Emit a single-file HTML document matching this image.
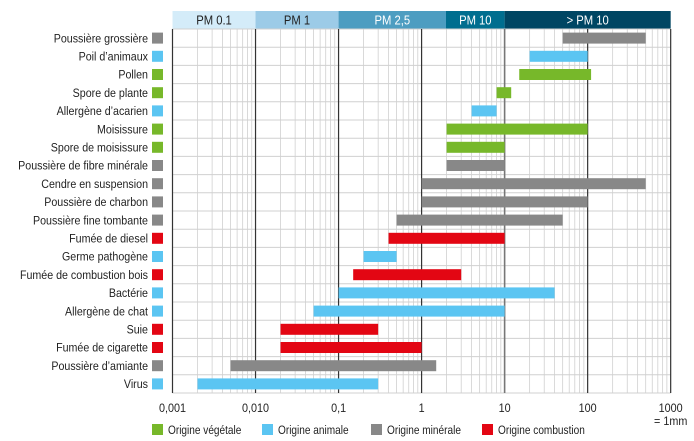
<!DOCTYPE html>
<html><head><meta charset="utf-8"><style>
body{margin:0;background:#fff}
svg{display:block;font-family:"Liberation Sans Narrow","Liberation Sans",sans-serif;font-size:12px;fill:#222}
</style></head><body>
<svg id="s" width="694" height="441" viewBox="0 0 694 441"></svg>
<script>
const s=document.getElementById('s');
const X0=172.5,D=83.03,T=29,RH=18.2,N=20;
const x=v=>X0+(Math.log10(v)+3)*D;
let h='';
const hd=[[0.001,0.01,'#d4ecf9','PM 0.1','#222'],[0.01,0.1,'#9ccbe7','PM 1','#222'],[0.1,2,'#4d9dc1','PM 2,5','#fff'],[2,10,'#006e8f','PM 10','#fff'],[10,1000,'#004663','> PM 10','#fff']];
hd.forEach(([a,b,c,t,tc])=>{const x1=a==2?446:x(a),x2=b==2?446:x(b);h+=`<rect x="${x1}" y="11" width="${x2-x1}" height="18" fill="${c}"/><text transform="translate(${(x1+x2)/2},24.5) scale(0.9,1)" text-anchor="middle" style="fill:${tc};font-size:12.5px">${t}</text>`;});
for(let i=0;i<=N;i++){const y=T+i*RH;h+=`<line x1="${X0}" x2="${x(1000)}" y1="${y}" y2="${y}" stroke="#d0d0d0" stroke-width="1"/>`;}
for(let e=-3;e<3;e++)for(let m=2;m<10;m++){const xx=x(m*Math.pow(10,e));h+=`<line x1="${xx}" x2="${xx}" y1="${T}" y2="${T+N*RH}" stroke="#d0d0d0" stroke-width="0.8"/>`;}
for(let e=-3;e<=3;e++){const xx=x(Math.pow(10,e));h+=`<line x1="${xx}" x2="${xx}" y1="${T}" y2="${T+N*RH}" stroke="${e==1?'#777':'#333'}" stroke-width="${e==1?1.6:1.2}"/>`;}
const C={g:'#77b82a',b:'#5bc5f2',m:'#888888',r:'#e30613'};
const R=[["Poussière grossière",'m',50,500],["Poil d’animaux",'b',20,100],["Pollen",'g',15,110],["Spore de plante",'g',8,12],["Allergène d’acarien",'b',4,8],["Moisissure",'g',2,100],["Spore de moisissure",'g',2,10],["Poussière de fibre minérale",'m',2,10],["Cendre en suspension",'m',1,500],["Poussière de charbon",'m',1,100],["Poussière fine tombante",'m',0.5,50],["Fumée de diesel",'r',0.4,10],["Germe pathogène",'b',0.2,0.5],["Fumée de combustion bois",'r',0.15,3],["Bactérie",'b',0.1,40],["Allergène de chat",'b',0.05,10],["Suie",'r',0.02,0.3],["Fumée de cigarette",'r',0.02,1],["Poussière d’amiante",'m',0.005,1.5],["Virus",'b',0.002,0.3]];
R.forEach(([t,c,a,b],i)=>{const cy=T+RH*(i+0.5);h+=`<text transform="translate(148,${cy+4.2}) scale(0.89,1)" text-anchor="end">${t}</text><rect x="152" y="${cy-5.5}" width="11" height="11" fill="${C[c]}"/><rect x="${x(a)}" y="${cy-5.5}" width="${x(b)-x(a)}" height="11" fill="${C[c]}"/>`;});
['0,001','0,010','0,1','1','10','100','1000'].forEach((t,i)=>{h+=`<text transform="translate(${X0+i*D},412) scale(0.9,1)" text-anchor="middle">${t}</text>`;});
h+=`<text transform="translate(${X0+6*D},425) scale(0.9,1)" text-anchor="middle">= 1mm</text>`;
[['g',152,'Origine végétale'],['b',262,'Origine animale'],['m',371,'Origine minérale'],['r',482,'Origine combustion']].forEach(([c,xx,t])=>{h+=`<rect x="${xx}" y="424" width="11" height="11" fill="${C[c]}"/><text transform="translate(${xx+16},434) scale(0.84,1)">${t}</text>`;});
s.innerHTML=h;
</script>
</body></html>
